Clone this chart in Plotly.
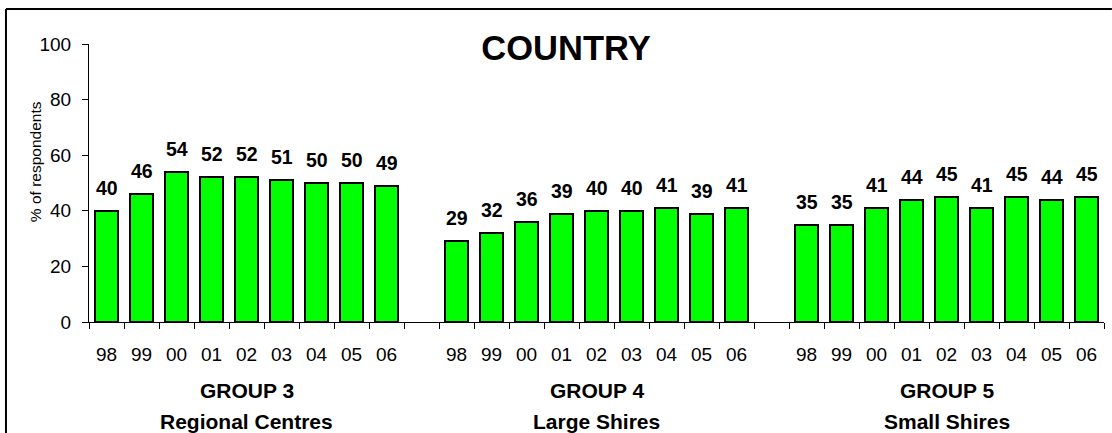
import plotly.graph_objects as go

# Survey results by year for each council group
years = ["98", "99", "00", "01", "02", "03", "04", "05", "06"]
group3 = [40, 46, 54, 52, 52, 51, 50, 50, 49]
group4 = [29, 32, 36, 39, 40, 40, 41, 39, 41]
group5 = [35, 35, 41, 44, 45, 41, 45, 44, 45]
group_names = [("GROUP 3", "Regional Centres"),
               ("GROUP 4", "Large Shires"),
               ("GROUP 5", "Small Shires")]

FONT = "Liberation Sans, Arial, sans-serif"

# lay the three groups out on one numeric axis with a blank slot between them
xs, ys, labels = [], [], []
for g, vals in enumerate([group3, group4, group5]):
    for i, v in enumerate(vals):
        xs.append(g * 10 + i)
        ys.append(v)
        labels.append(years[i])

fig = go.Figure()
fig.add_trace(go.Bar(
    x=xs, y=ys, width=0.65,
    marker=dict(color="#00FF00", line=dict(color="black", width=2)),
    hoverinfo="skip",
))

# value labels above each bar
for x, y in zip(xs, ys):
    fig.add_annotation(
        x=x, y=y, text=f"<b>{y}</b>", showarrow=False,
        yanchor="bottom", yshift=10,
        font=dict(family=FONT, size=19.5, color="black"),
    )

# group captions below the year labels
for g, (l1, l2) in enumerate(group_names):
    cx = g * 10 + 4
    fig.add_annotation(x=cx, y=-0.248, yref="paper", text=f"<b>{l1}</b>",
                       showarrow=False, yanchor="middle",
                       font=dict(family=FONT, size=21, color="black"))
    fig.add_annotation(x=cx, y=-0.359, yref="paper", text=f"<b>{l2}</b>",
                       showarrow=False, yanchor="middle",
                       font=dict(family=FONT, size=21, color="black"))

# y-axis caption
fig.add_annotation(x=-0.063, y=0.577, xref="paper", yref="paper",
                   text="% of respondents", textangle=-90, showarrow=False,
                   font=dict(family=FONT, size=15.5, color="black"))

# outer frame (left and top edges; the rest runs off the page)
fig.add_shape(type="line", xref="paper", yref="paper",
              x0=-0.0818, x1=-0.0818, y0=-0.6, y1=1.126,
              line=dict(color="black", width=2))
fig.add_shape(type="line", xref="paper", yref="paper",
              x0=-0.0818, x1=1.0078, y0=1.126, y1=1.126,
              line=dict(color="black", width=2))

fig.update_layout(
    width=1112, height=433,
    margin=dict(l=89, r=8, t=44, b=111),
    paper_bgcolor="white", plot_bgcolor="white",
    showlegend=False,
    bargap=0,
    title=dict(text="<b>COUNTRY</b>", x=566 / 1112, xanchor="center",
               y=1 - 48 / 433, yanchor="middle", xref="container", yref="container",
               font=dict(family=FONT, size=34.5, color="black")),
    font=dict(family=FONT, color="black"),
)

fig.update_xaxes(
    range=[-0.5, 28.5],
    tickvals=xs, ticktext=labels,
    ticks="", ticklabelstandoff=15,
    tickfont=dict(family=FONT, size=19, color="black"),
    showline=True, linecolor="black", linewidth=1,
    showgrid=False, zeroline=False,
    minor=dict(tick0=-0.5, dtick=1, ticks="outside", ticklen=6,
               tickcolor="black", tickwidth=1, showgrid=False),
)
fig.update_yaxes(
    range=[0, 100], tickvals=[0, 20, 40, 60, 80, 100],
    ticks="outside", ticklen=6, tickcolor="black", tickwidth=1,
    ticklabelstandoff=7,
    tickfont=dict(family=FONT, size=19, color="black"),
    showline=True, linecolor="black", linewidth=1,
    showgrid=False, zeroline=False,
)

fig.write_html("out.html")
